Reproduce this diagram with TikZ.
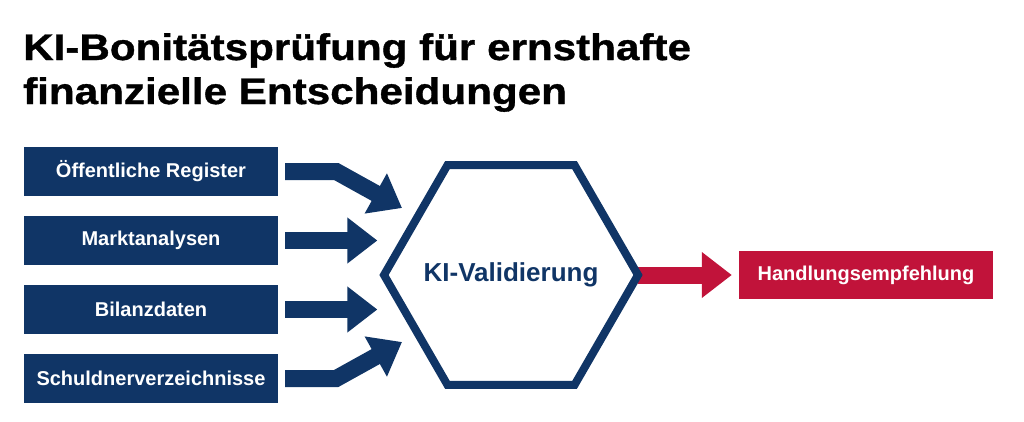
\documentclass[tikz,border=0pt]{standalone}
\usepackage{fontspec}
\setmainfont{Liberation Sans}
\newfontfamily\headfont[FakeStretch=1.14, FakeBold=1]{Liberation Sans}
\usetikzlibrary{positioning, shapes.geometric, arrows.meta, backgrounds}
\definecolor{navy}{HTML}{103566}
\definecolor{alertred}{HTML}{C1133A}

\begin{document}
\begin{tikzpicture}[x=1pt, y=1pt]
    \tikzset{
      node distance=69pt, % spacing between the source boxes
      source/.style={fill=navy, text=white, minimum width=254pt, minimum height=49pt, inner sep=0pt, font=\bfseries\fontsize{20}{24}\selectfont}, % input boxes
      hexa/.style={draw=navy, line width=8pt, regular polygon, regular polygon sides=6, minimum size=254pt, inner sep=0pt}, % the validation step
      hexlabel/.style={text=navy, font=\bfseries\fontsize{26}{30}\selectfont}, % its caption
      result/.style={fill=alertred, text=white, minimum width=254pt, minimum height=48pt, inner sep=0pt, font=\bfseries\fontsize{20}{24}\selectfont}, % the outcome box
      feed/.style={draw=navy, line width=17pt, line join=miter, -{Triangle[length=30pt,width=44pt]}, shorten <=7pt}, % thick input arrows
      lead/.style={draw=alertred, line width=17pt, -{Triangle[length=30pt,width=44pt]}, shorten <=-5pt, shorten >=7pt}, % red output arrow
    }
    \useasboundingbox (0,0) rectangle (1024,421);

    \node[anchor=north west, align=left, inner sep=0pt, font=\headfont\bfseries\fontsize{37}{44}\selectfont] (title) at (23,388)
      {KI-Bonitätsprüfung für ernsthafte\\finanzielle Entscheidungen};

    \node[source] (b1) at (151,249.5) {Öffentliche Register};
    \node[source, below of=b1] (b2) {Marktanalysen};
    \node[source, below of=b2] (b3) {Bilanzdaten};
    \node[source, below of=b3] (b4) {Schuldnerverzeichnisse};

    \node[hexa] (hex) at (511,146) {};
    \node[hexlabel] (hextext) at (hex.center) {KI-Validierung};
    \node[result, node distance=355pt, right of=hex] (out) {Handlungsempfehlung};

    \coordinate (t1) at ([shift={(-109pt,67pt)}]hex.center);
    \coordinate (t4) at ([shift={(-109pt,-67pt)}]hex.center);

    \begin{scope}[on background layer]
      \draw[feed] (b1.east) -- ++(58,0) -- (t1);
      \draw[feed, shorten >=2pt] (b2.east) -- (b2.east -| hex.west);
      \draw[feed, shorten >=2pt] (b3.east) -- (b3.east -| hex.west);
      \draw[feed] (b4.east) -- ++(58,0) -- (t4);
      \draw[lead] (hex.east) -- (out.west);
    \end{scope}
\end{tikzpicture}
\end{document}
